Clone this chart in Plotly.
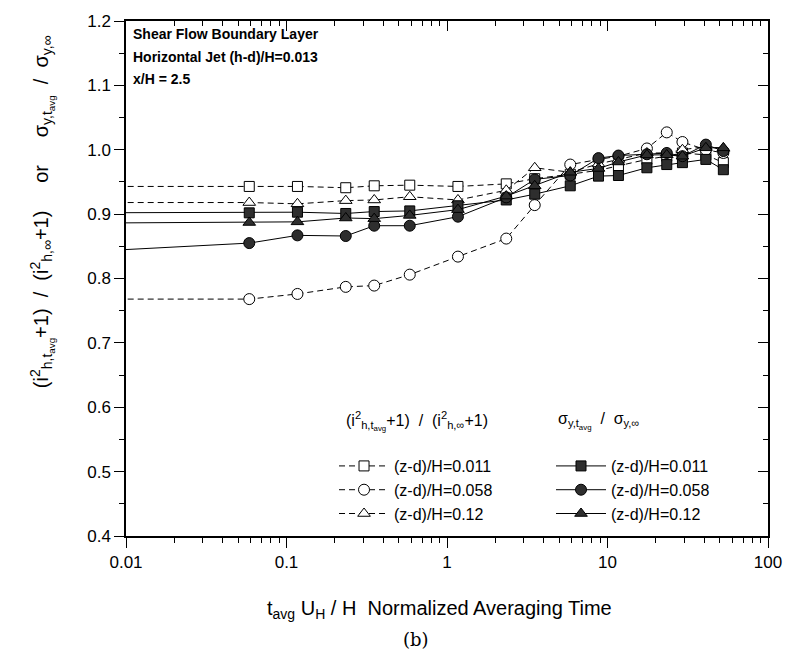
import plotly.graph_objects as go

# ---------------- data ----------------
t_avg = [0.005, 0.0586, 0.117, 0.234, 0.352, 0.586, 1.17, 2.34, 3.52,
         5.86, 8.79, 11.7, 17.6, 23.4, 29.3, 41.0, 52.7]

# (i^2_{h,tavg}+1)/(i^2_{h,inf}+1)  -> open symbols, dashed
i_z0011 = [0.943, 0.943, 0.943, 0.941, 0.944, 0.945, 0.943, 0.947, 0.955,
           0.962, 0.968, 0.975, 0.985, 0.990, 0.995, 0.992, 0.980]
i_z0058 = [0.768, 0.768, 0.776, 0.787, 0.789, 0.806, 0.834, 0.862, 0.914,
           0.977, 0.985, 0.990, 1.002, 1.027, 1.012, 1.000, 0.995]
i_z012 = [0.918, 0.918, 0.916, 0.921, 0.922, 0.927, 0.922, 0.937, 0.972,
          0.965, 0.978, 0.985, 0.995, 0.995, 1.000, 1.005, 1.002]

# sigma_{y,tavg}/sigma_{y,inf}  -> filled symbols, solid
s_z0011 = [0.902, 0.902, 0.903, 0.901, 0.904, 0.905, 0.913, 0.922, 0.931,
           0.944, 0.959, 0.960, 0.972, 0.977, 0.980, 0.985, 0.969]
s_z0058 = [0.841, 0.855, 0.867, 0.866, 0.882, 0.882, 0.896, 0.926, 0.954,
           0.960, 0.987, 0.991, 0.993, 0.995, 0.990, 1.008, 0.998]
s_z012 = [0.886, 0.887, 0.888, 0.894, 0.893, 0.898, 0.907, 0.928, 0.944,
          0.965, 0.971, 0.981, 0.992, 0.992, 0.990, 1.003, 1.003]

labels = ["(z-d)/H=0.011", "(z-d)/H=0.058", "(z-d)/H=0.12"]
x_tickvals = [0.01, 0.1, 1, 10, 100]
x_ticktext = ["0.01", "0.1", "1", "10", "100"]
y_tickvals = [0.4, 0.5, 0.6, 0.7, 0.8, 0.9, 1.0, 1.1, 1.2]
y_ticktext = ["0.4", "0.5", "0.6", "0.7", "0.8", "0.9", "1.0", "1.1", "1.2"]

FONT = "Arial, Liberation Sans, Helvetica, sans-serif"
FILL = "#2e2e2e"
DASH = "6px,4px"

L, R, T, B = 126, 771, 15, 536
PW, PH = R - L, B - T


def px_x(px):
    return (px - L) / PW


def px_y(py):
    return (B - py) / PH


fig = go.Figure()

series = [
    (i_z0011, labels[0], "square", "white", DASH, 10, "legend"),
    (i_z0058, labels[1], "circle", "white", DASH, 11, "legend"),
    (i_z012, labels[2], "triangle-up", "white", DASH, 11, "legend"),
    (s_z0011, labels[0], "square", FILL, "solid", 10, "legend2"),
    (s_z0058, labels[1], "circle", FILL, "solid", 11, "legend2"),
    (s_z012, labels[2], "triangle-up", FILL, "solid", 11, "legend2"),
]
for yv, name, sym, col, dash, sz, lg in series:
    fig.add_trace(go.Scatter(
        x=t_avg, y=yv, name=name, mode="lines+markers", legend=lg,
        line=dict(color="black", width=1, dash=dash),
        marker=dict(symbol=sym, size=sz, color=col,
                    line=dict(color="black", width=1)),
    ))

# empty trace so the mirrored (top / right) axes are drawn
fig.add_trace(go.Scatter(x=[], y=[], xaxis="x2", yaxis="y2",
                         showlegend=False, hoverinfo="skip"))

axis_common = dict(showgrid=False, zeroline=False, linecolor="black",
                   linewidth=1.5, tickcolor="black",
                   tickfont=dict(family=FONT, size=17, color="black"))

legend_common = dict(orientation="v", xanchor="left", yanchor="top",
                     itemwidth=50, bgcolor="rgba(0,0,0,0)",
                     font=dict(family=FONT, size=16, color="black"))

fig.update_layout(
    width=794, height=666,
    margin=dict(l=L, r=794 - R, t=T, b=666 - B),
    paper_bgcolor="white", plot_bgcolor="white",
    showlegend=True,
    legend=dict(x=px_x(335), y=px_y(448), **legend_common),
    legend2=dict(x=px_x(553), y=px_y(448), **legend_common),
    xaxis=dict(type="log", range=[-2, 2], tickvals=x_tickvals,
               ticktext=x_ticktext, ticks="outside", ticklen=10,
               tickwidth=1.2, showline=True,
               minor=dict(ticks="outside", ticklen=5, tickwidth=1,
                          tickcolor="black", dtick="D1"),
               **axis_common),
    yaxis=dict(range=[0.4, 1.2], tickvals=y_tickvals, ticktext=y_ticktext,
               ticks="outside", ticklen=10, tickwidth=1.2, showline=True,
               minor=dict(ticks="outside", ticklen=5, tickwidth=1,
                          tickcolor="black", dtick=0.05),
               **axis_common),
    xaxis2=dict(type="log", range=[-2, 2], overlaying="x", side="top",
                anchor="y2", tickvals=x_tickvals, ticks="inside", ticklen=10,
                tickwidth=1.2, showticklabels=False, showline=True,
                minor=dict(ticks="inside", ticklen=5, tickwidth=1,
                           tickcolor="black", dtick="D1"),
                **axis_common),
    yaxis2=dict(range=[0.4, 1.2], overlaying="y", side="right", anchor="x2",
                tickvals=y_tickvals, ticks="inside", ticklen=10,
                tickwidth=1.2, showticklabels=False, showline=True,
                minor=dict(ticks="inside", ticklen=5, tickwidth=1,
                           tickcolor="black", dtick=0.05),
                **axis_common),
)

ann = []
for i, txt in enumerate(["Shear Flow Boundary Layer",
                         "Horizontal Jet (h-d)/H=0.013",
                         "x/H = 2.5"]):
    ann.append(dict(text="<b>%s</b>" % txt, x=px_x(131), y=px_y(28 + 23 * i),
                    xref="paper", yref="paper", xanchor="left",
                    yanchor="middle", showarrow=False,
                    font=dict(family=FONT, size=14, color="black")))

ann.append(dict(text="(i<sup>2</sup><sub>h,t<sub>avg</sub></sub>+1)  /  (i<sup>2</sup><sub>h,∞</sub>+1)",
                x=px_x(345), y=px_y(420), xref="paper", yref="paper",
                xanchor="left", yanchor="middle", showarrow=False,
                font=dict(family=FONT, size=16, color="black")))
ann.append(dict(text="σ<sub>y,t<sub>avg</sub></sub>  /  σ<sub>y,∞</sub>",
                x=px_x(558), y=px_y(420), xref="paper", yref="paper",
                xanchor="left", yanchor="middle", showarrow=False,
                font=dict(family=FONT, size=16, color="black")))

ann.append(dict(text="(i<sup>2</sup><sub>h,t<sub>avg</sub></sub>+1)  /  (i<sup>2</sup><sub>h,∞</sub>+1)     or     σ<sub>y,t<sub>avg</sub></sub>  /  σ<sub>y,∞</sub>",
                x=px_x(42), y=px_y(208), xref="paper", yref="paper",
                xanchor="center", yanchor="middle", textangle=-90,
                showarrow=False,
                font=dict(family=FONT, size=20, color="black")))

ann.append(dict(text="t<sub>avg</sub> U<sub>H</sub> / H  Normalized Averaging Time",
                x=px_x(441), y=px_y(610), xref="paper", yref="paper",
                xanchor="center", yanchor="middle", showarrow=False,
                font=dict(family=FONT, size=20, color="black")))
ann.append(dict(text="(b)", x=px_x(417), y=px_y(641), xref="paper",
                yref="paper", xanchor="center", yanchor="middle",
                showarrow=False,
                font=dict(family="DejaVu Serif, Liberation Serif, serif",
                          size=18, color="black")))
fig.update_layout(annotations=ann)

fig.write_html("out.html")
